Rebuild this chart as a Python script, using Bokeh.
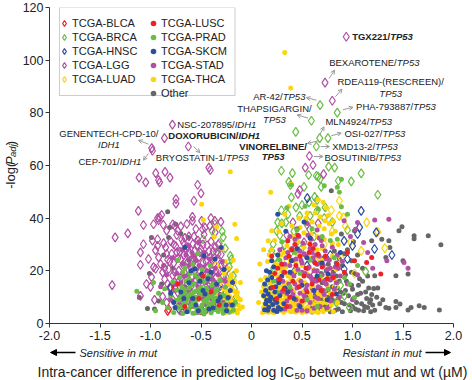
from math import pi
from bokeh.plotting import figure
from bokeh.layouts import column, row
from bokeh.models import (Legend, LegendItem, Label, Arrow, OpenHead, NormalHead,
                          BoxAnnotation, FixedTicker, CustomJSTickFormatter)
from bokeh.embed import file_html
from bokeh.resources import INLINE

# ---------------- data (x = difference in log IC50, y = -log(Padj)) ----------------
blca = [(-0.83, 4.8), (-0.82, 5.4), (-0.675, 6.7), (-0.76, 13.7), (-0.58, 7.5), (-0.50, 5.0),
        (0.35, 12.0), (0.62, 18.5), (0.45, 8.0)]

brca = [(0.679, 82.9), (0.593, 77.0), (0.849, 80.1), (0.675, 70.4), (0.757, 70.4), (0.642, 67.2),
        (0.438, 72.8), (0.296, 58.0), (0.405, 57.1), (0.566, 56.4), (0.642, 56.1), (0.764, 59.6),
        (0.823, 59.2), (1.086, 57.0), (0.37, 53.8), (0.385, 52.6), (0.66, 55.8), (0.68, 54.9),
        (0.86, 54.2), (0.988, 54.0), (1.25, 48.9), (0.69, 51.9), (0.52, 51.9), (0.395, 47.9),
        (0.44, 44.1), (0.296, 43.0), (0.26, 38.4), (0.30, 38.0), (0.34, 38.4), (0.477, 40.9),
        (0.58, 40.9), (0.652, 43.0), (0.73, 44.1), (0.625, 48.1), (0.65, 46.9), (0.214, 30.1),
        (0.20, 27.6), (0.23, 25.0), (0.27, 23.5), (1.13, 19.7), (0.57, 46.0), (0.50, 45.0),
        (0.36, 41.5), (0.42, 35.0), (0.55, 37.5), (0.80, 38.5), (0.72, 40.0), (0.28, 33.5),
        (0.25, 35.2), (0.33, 29.8), (0.45, 31.0), (0.22, 21.0), (0.19, 17.5), (0.18, 14.0),
        (0.17, 11.2), (0.21, 8.0), (0.15, 6.5), (0.95, 35.5), (0.62, 33.0), (0.38, 26.5),
        (0.49, 28.0), (0.88, 14.5), (0.92, 10.5), (0.97, 6.0), (0.84, 8.0),
        (-0.39, 35.2), (-0.363, 37.7), (-0.29, 35.0), (-0.28, 32.8), (-0.21, 25.7), (-0.20, 24.4),
        (-0.18, 18.1), (-0.25, 17.5), (-0.22, 21.5), (-0.17, 13.2), (-0.15, 10.1), (-0.26, 28.5),
        (-0.32, 30.5), (-0.14, 6.0), (-0.19, 7.5), (-0.48, 32.0), (-0.35, 27.0)]

hnsc = [(0.553, 47.6), (1.086, 42.8), (1.07, 36.5), (1.235, 34.6), (1.218, 28.3), (1.39, 26.0),
        (0.917, 31.4), (0.917, 20.7), (0.95, 24.5), (1.00, 29.5), (0.78, 26.0), (0.55, 22.0),
        (0.42, 19.5), (1.05, 34.0), (-0.80, 13.7), (-0.62, 8.8), (-0.45, 6.0), (-0.72, 5.5),
        (-0.30, 12.5)]

lgg = [(-0.783, 75.5), (-0.862, 70.4), (-0.988, 66.6), (-0.981, 65.6), (-0.625, 67.2),
       (-0.422, 59.2), (-0.408, 58.3), (0.938, 108.9), (0.728, 91.5), (0.800, 84.6), (0.573, 63.6),
       (0.533, 59.2), (0.609, 60.2), (0.714, 56.7),
       (-1.113, 55.4), (-1.047, 53.6), (-0.948, 57.1), (-0.91, 53.6), (-0.92, 54.5), (-0.856, 57.6),
       (-0.807, 55.4), (-0.533, 52.7), (-0.5, 49.4), (-0.57, 46.6), (-0.748, 47.2), (-0.748, 45.5),
       (-1.12, 42.8), (-1.07, 37.4), (-0.97, 37.7), (-0.93, 40.0), (-0.92, 39.2), (-0.873, 37.5),
       (-0.76, 37.1), (-0.585, 40.5), (-0.585, 39.0), (-0.494, 39.0), (-0.402, 40.0), (-0.363, 39.0),
       (-0.412, 37.1), (-0.303, 38.6), (-0.485, 35.8), (-0.73, 35.2), (-0.78, 37.7), (-1.35, 32.7),
       (-1.225, 34.2), (-1.07, 30.1), (-0.93, 29.5), (-0.93, 32.0), (-0.675, 30.8), (-1.38, 14.6),
       (-1.10, 27.0), (-1.10, 22.3), (-1.04, 15.0), (-1.0, 13.9), (-0.97, 21.4), (-1.10, 10.5),
       (-0.95, 20.8), (-0.91, 40.3), (-0.89, 41.2),
       (-0.98, 31.5), (-0.95, 27.8), (-0.92, 25.1), (-0.90, 22.6), (-0.88, 19.4), (-0.86, 16.8),
       (-0.85, 28.9), (-0.83, 24.2), (-0.82, 20.7), (-0.81, 13.5), (-0.80, 31.2), (-0.79, 26.5),
       (-0.78, 18.3), (-0.77, 22.9), (-0.76, 15.6), (-0.75, 29.4), (-0.74, 33.6), (-0.73, 24.8),
       (-0.72, 20.1), (-0.71, 27.3), (-0.70, 17.2), (-0.69, 31.9), (-0.68, 22.4), (-0.67, 25.9),
       (-0.66, 19.1), (-0.65, 28.6), (-0.64, 14.8), (-0.63, 23.5), (-0.62, 33.1), (-0.61, 26.7),
       (-0.60, 21.2), (-0.59, 18.0), (-0.58, 30.2), (-0.57, 24.4), (-0.56, 27.8), (-0.55, 16.3),
       (-0.54, 22.0), (-0.53, 31.5), (-0.52, 25.2), (-0.51, 19.7), (-0.50, 28.3), (-0.49, 13.9),
       (-0.48, 23.1), (-0.47, 33.8), (-0.46, 26.0), (-0.45, 18.6), (-0.44, 29.7), (-0.43, 21.6),
       (-0.42, 15.4), (-0.41, 25.0), (-0.40, 31.1), (-0.39, 19.9), (-0.38, 27.4), (-0.37, 22.8),
       (-0.36, 12.6), (-0.35, 17.5), (-0.34, 24.3), (-0.33, 30.0), (-0.32, 20.5), (-0.31, 14.2),
       (-0.30, 26.2), (-0.29, 9.8), (-0.28, 18.1), (-0.27, 22.7), (-0.26, 11.5), (-0.25, 15.9),
       (-0.88, 10.2), (-0.84, 7.9), (-0.79, 9.6), (-0.73, 11.8), (-0.68, 8.5), (-0.62, 10.9),
       (-0.57, 7.4), (-0.52, 12.1), (-0.47, 9.3), (-0.43, 6.8), (-0.38, 8.9), (-0.33, 7.2),
       (-0.96, 9.0), (-0.99, 17.6), (-1.02, 24.5), (-0.84, 35.3), (-0.70, 36.9), (-0.64, 37.8),
       (-0.55, 35.9), (-0.46, 36.4), (-0.36, 34.6), (-0.25, 20.3), (-0.22, 13.1), (-0.20, 8.4),
       (-0.24, 6.0),
       (-0.87, 30.5), (-0.84, 26.5), (-0.81, 23.5), (-0.77, 30.0), (-0.74, 27.0), (-0.70, 24.5),
       (-0.66, 32.5), (-0.63, 29.0), (-0.60, 24.0), (-0.57, 33.0), (-0.54, 29.5), (-0.51, 27.0),
       (-0.48, 30.0), (-0.45, 23.5), (-0.42, 27.5), (-0.39, 24.0), (-0.36, 29.0), (-0.33, 26.5),
       (-0.30, 22.0), (-0.76, 19.5), (-0.72, 16.0), (-0.68, 13.0), (-0.64, 17.5), (-0.60, 14.0),
       (-0.56, 20.0), (-0.52, 17.0), (-0.48, 19.0), (-0.44, 12.0), (-0.40, 16.0), (-0.35, 20.0),
       (-0.83, 15.0), (-0.86, 21.0),
       (0.477, 50.7), (0.46, 49.2), (0.41, 38.4), (0.576, 35.8), (0.66, 38.0), (0.35, 33.5),
       (0.52, 30.8), (0.30, 27.4)]

luad = [(0.79, 43.0), (0.87, 46.6), (1.14, 38.4), (1.25, 34.8), (1.32, 28.6), (0.89, 24.7),
        (1.086, 27.6), (0.87, 40.9), (0.91, 40.3), (0.93, 37.0), (0.80, 35.0), (0.72, 30.0),
        (0.98, 31.0), (0.66, 25.5), (1.02, 19.0), (0.58, 20.0), (0.45, 15.0), (0.83, 14.0),
        (0.35, 24.0), (0.27, 20.5), (-0.28, 14.5), (-0.22, 10.0), (-0.35, 22.0), (-0.18, 16.5)]

lusc = [(0.58, 30.1), (0.66, 26.3), (0.95, 27.0), (1.02, 23.8), (1.19, 25.1), (0.36, 31.4),
        (0.21, 13.7), (1.28, 18.8), (1.14, 23.2), (0.44, 22.0), (0.52, 18.0), (0.60, 15.0),
        (0.48, 25.5), (0.70, 21.5), (0.40, 28.0), (0.33, 19.5), (0.28, 17.0), (0.55, 12.0),
        (0.75, 17.0), (0.85, 22.5), (0.63, 23.0), (0.41, 16.0), (0.25, 9.5), (0.50, 8.5),
        (0.69, 12.5), (0.80, 11.0), (0.30, 22.5), (0.46, 33.5), (0.38, 10.0), (0.57, 27.0),
        (0.23, 19.0), (0.92, 19.5), (0.35, 6.5), (0.20, 25.5),
        (0.37, 25.5), (0.47, 14.0), (0.54, 21.0), (0.61, 28.5), (0.67, 16.5), (0.73, 25.5),
        (0.43, 30.0), (0.32, 13.0), (0.26, 21.0), (0.81, 17.5),
        (-0.66, 6.5), (-0.52, 9.5), (-0.40, 12.0), (-0.73, 15.0), (-0.48, 18.0), (-0.32, 7.0)]

prad = [(-1.136, 12.2), (-0.97, 15.6), (-0.92, 11.5), (-0.88, 8.0), (-0.95, 4.8), (-0.86, 13.2),
        (-0.83, 6.0), (-0.80, 10.5), (-0.78, 15.8), (-0.77, 4.2), (-0.75, 8.8), (-0.74, 12.6),
        (-0.72, 5.8), (-0.71, 17.5), (-0.70, 10.2), (-0.69, 14.0), (-0.68, 3.8), (-0.67, 7.5),
        (-0.66, 11.8), (-0.65, 16.0), (-0.64, 5.0), (-0.63, 9.2), (-0.62, 13.5), (-0.61, 19.0),
        (-0.60, 6.8), (-0.59, 10.8), (-0.58, 3.9), (-0.57, 15.0), (-0.56, 8.1), (-0.55, 12.3),
        (-0.54, 5.5), (-0.53, 17.2), (-0.52, 9.9), (-0.51, 4.4), (-0.50, 13.8), (-0.49, 7.0),
        (-0.48, 11.1), (-0.47, 15.9), (-0.46, 4.9), (-0.45, 9.0), (-0.44, 12.9), (-0.43, 6.2),
        (-0.42, 18.3), (-0.41, 10.4), (-0.40, 4.1), (-0.39, 14.6), (-0.38, 7.9), (-0.37, 11.7),
        (-0.36, 5.3), (-0.35, 9.6), (-0.34, 13.1), (-0.33, 4.6), (-0.32, 8.4), (-0.31, 16.4),
        (-0.30, 6.1), (-0.29, 11.0), (-0.28, 3.9), (-0.27, 7.2), (-0.26, 13.9), (-0.25, 5.4),
        (-0.24, 9.4), (-0.22, 4.3), (-0.20, 6.9), (-0.18, 5.0), (-0.16, 8.0), (-0.66, 21.0),
        (-0.58, 22.5), (-0.49, 20.5), (-0.41, 22.0), (-0.53, 26.5), (-0.73, 24.0), (-0.62, 5.2),
        (-0.56, 4.0), (-0.47, 3.6), (-0.69, 6.4), (-0.44, 8.1), (-0.60, 14.6), (-0.52, 13.0),
        (-0.64, 10.0), (-0.55, 10.0), (-0.45, 11.5), (-0.38, 10.0), (-0.58, 8.0), (-0.50, 6.0),
        (-0.40, 6.5),
        (-0.73, 6.5), (-0.71, 9.0), (-0.69, 11.5), (-0.67, 13.0), (-0.65, 7.8), (-0.63, 4.6),
        (-0.61, 11.0), (-0.59, 7.0), (-0.57, 12.0), (-0.55, 6.5), (-0.53, 9.0), (-0.51, 11.8),
        (-0.49, 4.8), (-0.47, 8.5), (-0.45, 13.5), (-0.43, 9.8), (-0.41, 7.2), (-0.39, 5.0),
        (-0.37, 9.0), (-0.35, 12.5), (-0.33, 6.5), (-0.31, 9.5), (-0.29, 5.5), (-0.27, 10.5),
        (-0.50, 16.5), (-0.56, 18.5), (-0.62, 17.0), (-0.44, 17.5), (-0.68, 19.5), (-0.38, 15.0),
        (0.87, 49.8), (0.89, 54.8), (0.85, 51.7), (0.72, 52.3), (0.89, 44.3), (0.395, 52.6),
        (0.97, 15.0), (1.02, 9.9), (0.60, 36.0), (0.70, 33.0), (0.30, 31.0), (0.48, 19.0),
        (0.38, 14.0), (0.25, 12.0), (0.55, 9.0), (0.65, 6.5), (0.82, 25.0), (0.76, 13.0),
        (0.92, 17.5), (0.43, 27.0), (0.66, 43.5), (0.18, 9.0), (1.05, 22.0), (0.78, 31.5),
        (0.35, 44.0), (0.28, 24.0), (0.22, 16.0), (0.45, 35.5), (0.58, 24.0), (0.68, 18.0),
        (0.85, 32.0), (0.53, 44.5), (0.95, 41.5)]

skcm = [(-0.66, 28.9), (-0.56, 20.7), (-0.494, 18.8), (-0.46, 11.2), (-0.345, 15.0), (-0.23, 9.9),
        (-0.247, 4.8), (-0.526, 4.8), (-0.757, 6.1), (-0.77, 8.0), (-0.188, 15.6), (-0.33, 8.6),
        (-0.36, 24.5), (-0.47, 25.7), (-0.30, 28.9), (-0.62, 15.5), (-0.70, 12.0), (-0.40, 19.5),
        (-0.27, 20.5), (-0.58, 9.5), (-0.64, 4.5), (-0.42, 5.5), (-0.21, 12.5), (-0.19, 7.0),
        (-0.51, 16.0), (-0.80, 11.5), (-0.55, 7.0), (-0.48, 12.5), (-0.38, 6.0), (-0.31, 10.0),
        (-0.25, 7.0), (-0.43, 17.0), (-0.67, 9.5), (-0.60, 20.0),
        (0.148, 20.0), (0.2, 23.8), (0.13, 15.0), (0.165, 11.2), (0.267, 6.1), (0.22, 5.0),
        (0.26, 41.5), (0.757, 18.8), (0.395, 23.8), (0.84, 11.2), (0.14, 7.5), (0.18, 8.5),
        (0.16, 5.0), (0.24, 14.0), (0.20, 17.5), (0.28, 10.5), (0.32, 7.5), (0.30, 18.0),
        (0.36, 12.0), (0.45, 28.5), (0.55, 25.0), (0.62, 12.5), (0.48, 6.5), (0.70, 23.0),
        (0.12, 10.5), (0.19, 13.5), (0.23, 9.0), (0.27, 15.5), (0.34, 35.0), (0.52, 38.5),
        (0.88, 27.0), (0.42, 9.5), (0.13, 5.2), (0.15, 8.8), (0.17, 6.2), (0.19, 10.0),
        (0.21, 7.2), (0.23, 12.0), (0.25, 8.0), (0.14, 12.5), (0.16, 16.5), (0.18, 19.5),
        (0.22, 21.5), (0.25, 4.6), (0.29, 5.4), (0.33, 13.5), (0.26, 26.0), (0.38, 19.5),
        (0.50, 14.5), (0.65, 18.0), (0.75, 9.0), (0.58, 32.5)]

stad = [(-0.80, 9.0), (-0.76, 12.5), (-0.74, 19.0), (-0.72, 7.2), (-0.70, 15.5), (-0.68, 22.5),
        (-0.66, 10.5), (-0.65, 26.0), (-0.63, 18.0), (-0.61, 13.0), (-0.60, 8.5), (-0.58, 20.5),
        (-0.57, 25.5), (-0.55, 15.0), (-0.54, 6.0), (-0.52, 22.0), (-0.50, 11.5), (-0.49, 17.0),
        (-0.47, 27.0), (-0.46, 7.5), (-0.44, 20.0), (-0.43, 13.5), (-0.41, 24.5), (-0.40, 9.5),
        (-0.38, 16.5), (-0.36, 21.0), (-0.35, 6.0), (-0.33, 18.5), (-0.31, 11.0), (-0.29, 23.5),
        (-0.28, 8.0), (-0.26, 16.0), (-0.64, 5.2), (-0.53, 4.2), (-0.45, 4.6), (-0.70, 4.0),
        (-0.62, 29.5), (-0.52, 31.0), (-0.78, 25.0), (-0.84, 18.5), (-0.87, 22.0), (-0.90, 14.0),
        (-0.75, 15.0), (-0.71, 10.0), (-0.67, 18.0), (-0.64, 12.0), (-0.59, 16.0), (-0.56, 10.0),
        (-0.53, 14.0), (-0.48, 9.5), (-0.45, 15.5), (-0.42, 10.5), (-0.39, 13.0), (-0.37, 8.0),
        (-0.34, 14.5), (-0.30, 16.5), (-0.62, 22.0), (-0.55, 24.0), (-0.48, 21.5), (-0.40, 18.0),
        (-0.69, 28.0), (-0.59, 27.0),
        (0.30, 12.0), (0.32, 19.5), (0.34, 25.0), (0.35, 8.5), (0.37, 15.0), (0.38, 22.0),
        (0.40, 28.5), (0.41, 11.0), (0.42, 18.0), (0.43, 32.0), (0.44, 24.5), (0.45, 13.5),
        (0.46, 20.5), (0.47, 7.0), (0.48, 27.5), (0.49, 16.0), (0.50, 23.0), (0.51, 30.5),
        (0.52, 10.5), (0.53, 19.0), (0.54, 25.5), (0.55, 14.5), (0.56, 33.5), (0.57, 21.5),
        (0.58, 8.0), (0.59, 17.5), (0.60, 27.0), (0.61, 12.5), (0.62, 23.5), (0.63, 30.0),
        (0.64, 16.0), (0.65, 20.0), (0.66, 9.5), (0.67, 25.5), (0.68, 13.5), (0.69, 31.5),
        (0.70, 18.5), (0.71, 22.0), (0.72, 11.0), (0.73, 27.5), (0.74, 15.0), (0.75, 20.5),
        (0.77, 24.0), (0.78, 8.5), (0.79, 17.0), (0.80, 29.0), (0.82, 13.0), (0.83, 21.5),
        (0.85, 26.0), (0.87, 10.0), (0.88, 18.0), (0.90, 23.5), (0.45, 36.0), (0.55, 38.0),
        (0.65, 35.5), (0.38, 33.0), (0.28, 28.0), (0.26, 16.5), (0.33, 5.5), (0.50, 5.0),
        (0.62, 5.8), (0.75, 6.0),
        (0.31, 16.0), (0.33, 22.5), (0.36, 27.0), (0.39, 12.5), (0.41, 24.0), (0.43, 15.0),
        (0.46, 28.0), (0.48, 11.5), (0.50, 19.5), (0.52, 26.5), (0.54, 13.0), (0.56, 21.0),
        (0.58, 28.5), (0.60, 16.5), (0.62, 20.0), (0.64, 26.0), (0.66, 14.0), (0.68, 23.0),
        (0.70, 29.5), (0.72, 16.0), (0.74, 24.5), (0.76, 13.0), (0.78, 21.0), (0.80, 18.5),
        (0.84, 15.5), (0.86, 21.0), (0.59, 32.0), (0.47, 33.0), (0.67, 32.5), (0.53, 9.0),
        (0.63, 10.0), (0.44, 9.0), (0.57, 18.0), (0.49, 24.0), (0.61, 25.0), (0.71, 12.5),
        (0.40, 19.0), (0.35, 11.5), (0.38, 6.5), (0.55, 4.8), (0.45, 5.0), (0.68, 6.5),
        (1.05, 38.4), (1.22, 39.3), (1.36, 39.6), (0.917, 39.0), (1.34, 23.8), (1.51, 23.2),
        (1.55, 21.0), (1.03, 35.8), (1.11, 30.8), (0.98, 33.0), (1.15, 27.0), (0.95, 15.0),
        (1.05, 18.5), (1.20, 21.0), (1.00, 9.0)]

thca = [(0.329, 102.9), (0.388, 89.4), (-0.21, 57.6), (-0.494, 45.3), (-0.477, 39.3),
        (-0.345, 36.7), (-0.165, 37.7), (-0.148, 32.3), (-0.29, 28.6), (-0.37, 32.9), (0.19, 49.8),
        (0.2, 35.2), (0.165, 31.4), (0.082, 22.6), (0.175, 26.1), (-0.15, 20.0), (-0.11, 15.6),
        (-0.09, 6.3), (-0.14, 11.8), (0.395, 52.9), (0.1, 12.0), (0.07, 8.0), (0.09, 16.5),
        (0.12, 28.0),
        (-0.30, 5.0), (-0.28, 9.0), (-0.27, 13.0), (-0.26, 4.2), (-0.25, 7.5), (-0.24, 11.0),
        (-0.23, 15.0), (-0.22, 6.0), (-0.21, 9.5), (-0.20, 18.5), (-0.19, 4.5), (-0.18, 12.5),
        (-0.17, 8.0), (-0.16, 5.0), (-0.15, 10.5), (-0.14, 4.0), (-0.13, 7.0), (-0.12, 5.5),
        (-0.20, 13.5), (-0.23, 21.0), (-0.18, 24.0), (-0.32, 17.0), (-0.35, 11.0), (-0.27, 19.0),
        (-0.11, 9.0), (-0.21, 4.8), (-0.24, 5.2), (-0.28, 6.5), (-0.19, 8.2), (-0.16, 12.0),
        (-0.13, 9.5), (-0.17, 15.5), (-0.25, 12.5), (-0.22, 16.5), (-0.30, 10.5), (-0.26, 23.5),
        (0.15, 5.0), (0.17, 8.5), (0.18, 12.0), (0.19, 15.5), (0.20, 4.5), (0.21, 19.0),
        (0.22, 7.0), (0.23, 10.5), (0.24, 22.5), (0.25, 5.5), (0.26, 13.5), (0.27, 17.5),
        (0.28, 8.0), (0.29, 26.0), (0.30, 4.8), (0.31, 21.0), (0.32, 11.0), (0.33, 14.5),
        (0.34, 6.5), (0.35, 29.5), (0.36, 18.0), (0.37, 9.5), (0.38, 24.5), (0.39, 4.5),
        (0.40, 13.0), (0.41, 33.0), (0.42, 7.0), (0.43, 20.0), (0.44, 10.0), (0.45, 26.5),
        (0.46, 5.0), (0.47, 16.5), (0.48, 36.5), (0.49, 8.5), (0.50, 22.0), (0.51, 12.0),
        (0.52, 29.0), (0.53, 5.5), (0.54, 40.0), (0.55, 18.5), (0.56, 9.0), (0.57, 25.0),
        (0.58, 4.6), (0.59, 34.0), (0.60, 14.0), (0.61, 7.5), (0.62, 20.5), (0.63, 42.0),
        (0.64, 5.0), (0.65, 28.0), (0.66, 11.5), (0.67, 37.0), (0.68, 6.5), (0.69, 17.0),
        (0.70, 24.0), (0.71, 4.5), (0.72, 32.0), (0.73, 9.5), (0.74, 44.0), (0.75, 14.5),
        (0.76, 5.5), (0.77, 38.0), (0.78, 21.0), (0.79, 7.0), (0.80, 30.5), (0.81, 4.5),
        (0.82, 12.0), (0.83, 35.0), (0.85, 8.0), (0.16, 23.5), (0.14, 17.5), (0.13, 10.0),
        (0.12, 6.0), (0.11, 4.2), (0.20, 28.0), (0.23, 31.5), (0.27, 35.0), (0.30, 38.0),
        (0.33, 41.5), (0.37, 44.5), (0.22, 14.0), (0.26, 9.0), (0.31, 6.0), (0.36, 5.0),
        (0.41, 5.5), (0.44, 4.4), (0.50, 4.2), (0.55, 6.0), (0.60, 5.0), (0.66, 4.2), (0.70, 7.8),
        (0.28, 12.5), (0.35, 15.5), (0.42, 12.0), (0.48, 14.0), (0.53, 15.5), (0.58, 11.0),
        (0.64, 9.0), (0.19, 6.5), (0.17, 4.3), (0.25, 16.0), (0.30, 20.0), (0.38, 28.0),
        (0.46, 31.0), (0.52, 34.5), (0.60, 38.5), (0.68, 40.5), (0.71, 46.0), (0.62, 45.0),
        (0.14, 4.5), (0.16, 6.8), (0.18, 5.5), (0.20, 9.0), (0.22, 4.2), (0.24, 6.5),
        (0.26, 4.6), (0.28, 5.8), (0.30, 8.8), (0.32, 4.3), (0.34, 9.8), (0.36, 7.2),
        (0.38, 5.6), (0.40, 8.0), (0.42, 4.6), (0.44, 7.2), (0.46, 9.5), (0.48, 4.8),
        (0.50, 6.8), (0.52, 8.2), (0.54, 4.4), (0.56, 6.5), (0.58, 8.4), (0.60, 10.0),
        (0.62, 4.5), (0.64, 7.0), (0.66, 8.4), (0.68, 10.5), (0.70, 5.2), (0.72, 12.5),
        (0.74, 8.0), (0.76, 18.0), (0.78, 11.5), (0.80, 25.5), (0.82, 16.5), (0.84, 20.5),
        (0.86, 30.0), (0.79, 34.0), (0.76, 41.0), (0.72, 36.0), (0.70, 28.5), (0.65, 33.0),
        (0.57, 30.5), (0.50, 26.0), (0.44, 23.0), (0.39, 17.0), (0.34, 21.5), (0.29, 14.5),
        (0.24, 18.5), (0.21, 11.0), (0.27, 22.0), (0.32, 27.0), (0.40, 37.0), (0.47, 40.0),
        (0.55, 42.0), (0.66, 47.0), (0.73, 39.0), (0.81, 39.0), (0.15, 9.0), (0.17, 13.0),
        (0.13, 7.5), (0.12, 14.0)]

other = [(-0.83, 42.4), (-0.75, 37.7), (-0.81, 36.5), (-0.99, 32.7), (-0.82, 32.7), (-0.70, 34.2),
         (-0.625, 32.7), (-1.01, 19.0), (-1.11, 9.9), (-1.03, 5.7), (-0.96, 5.5), (-0.89, 15.0),
         (-0.70, 9.0), (-0.87, 26.0), (-0.78, 21.0), (-0.62, 24.0), (-0.55, 18.0), (-0.66, 14.0),
         (-0.60, 6.5), (-0.52, 13.0), (-0.44, 16.0), (-0.75, 6.0), (-0.92, 8.5),
         (1.46, 35.2), (1.49, 36.7), (1.61, 33.3), (1.61, 32.2), (1.75, 33.3), (1.875, 29.9),
         (1.36, 31.4), (1.33, 25.1), (1.50, 23.8), (1.55, 18.8), (1.43, 18.1), (1.22, 18.1),
         (1.21, 13.3), (1.33, 6.1), (1.36, 5.8), (1.43, 6.1), (1.43, 8.4), (1.58, 6.1),
         (1.55, 5.1), (1.66, 6.7), (1.71, 6.1), (1.86, 5.1), (1.47, 7.4), (1.15, 6.1),
         (1.37, 28.9), (0.79, 50.4), (0.89, 34.0), (1.02, 35.2), (1.19, 31.4), (1.29, 32.0),
         (0.99, 23.8), (1.27, 7.5), (1.24, 10.0), (1.18, 9.0),
         (0.55, 10.0), (0.58, 6.0), (0.60, 13.5), (0.62, 8.0), (0.64, 17.0), (0.66, 5.0),
         (0.68, 11.0), (0.70, 15.5), (0.72, 7.0), (0.74, 20.0), (0.76, 10.0), (0.78, 4.5),
         (0.80, 14.0), (0.82, 8.5), (0.84, 18.0), (0.86, 5.5), (0.88, 12.0), (0.90, 22.0),
         (0.92, 7.5), (0.94, 16.0), (0.96, 10.5), (0.98, 4.8), (1.00, 13.0), (1.02, 19.0),
         (1.04, 8.0), (1.06, 5.0), (1.08, 11.5), (1.10, 16.0), (1.12, 6.5), (1.14, 9.5),
         (1.16, 13.5), (1.18, 4.5), (1.20, 7.0), (0.72, 25.0), (0.82, 27.5), (0.95, 28.0),
         (1.05, 26.0), (1.10, 21.0), (0.65, 22.5), (0.87, 24.5), (0.99, 19.5), (0.78, 16.5),
         (0.70, 9.0), (0.86, 9.5), (0.93, 12.5), (1.00, 6.5), (1.06, 14.5), (0.66, 13.5),
         (0.75, 12.5), (0.90, 4.5), (0.74, 5.5),
         (0.60, 4.4), (0.63, 11.0), (0.67, 7.5), (0.69, 19.0), (0.71, 12.0), (0.73, 16.5),
         (0.77, 6.5), (0.79, 9.5), (0.81, 19.5), (0.83, 5.0), (0.85, 13.5), (0.87, 16.0),
         (0.89, 8.0), (0.91, 11.5), (0.93, 18.5), (0.97, 7.0), (0.99, 14.5), (1.01, 9.5),
         (1.03, 5.5), (1.05, 11.0), (1.07, 17.0), (1.09, 7.5), (1.11, 4.8), (1.13, 12.0),
         (1.15, 18.0), (1.17, 8.0), (1.19, 11.0), (1.22, 5.0), (1.25, 13.5), (1.30, 9.0),
         (0.76, 22.5), (0.84, 23.0), (0.92, 26.5), (1.01, 31.0)]

x_ticks = [-2.0, -1.5, -1.0, -0.5, 0.0, 0.5, 1.0, 1.5, 2.0]
y_ticks = [0, 20, 40, 60, 80, 100, 120]

# ---------------- styling / layout ----------------
RED, GREEN, BLUE, PURPLE, YELLOW, GRAY = "#ec2227", "#6bbd45", "#2d4d9f", "#b14fa4", "#fcd60c", "#666666"
FONT = "Liberation Sans"
TXT = "#222222"

WT, HT = 472, 380          # whole picture
WL = 19                    # strip left of the plot for the y title
HM = 345                   # height of main plot (bottom strip below it)
W = WT - WL
BL, BR, BT, BB = 48 - WL, 19, 7, 22
FRAME_H = HM - BT - BB
PPU = FRAME_H / 120.0
PPX = (W - BL - BR) / 4.0

p = figure(width=W, height=HM, x_range=(-2, 2), y_range=(0, 120),
           output_backend="svg", toolbar_location=None,
           min_border_left=BL, min_border_right=BR, min_border_top=BT, min_border_bottom=BB)
p.outline_line_color = None
p.grid.visible = False
p.xaxis.ticker = FixedTicker(ticks=x_ticks)
p.xaxis.formatter = CustomJSTickFormatter(code="return tick == 0 ? '0' : tick.toFixed(1);")
p.yaxis.ticker = FixedTicker(ticks=y_ticks)
for ax in (p.xaxis, p.yaxis):
    ax.axis_line_color = "#333333"
    ax.major_tick_line_color = "#333333"
    ax.major_tick_out = 4
    ax.major_tick_in = 0
    ax.minor_tick_line_color = None
    ax.major_label_text_font = FONT
    ax.major_label_text_font_size = "12.5px"
    ax.major_label_text_color = TXT
p.xaxis.major_label_standoff = 3
p.yaxis.major_label_standoff = 2


def xs(pts):
    return [a for a, b in pts]


def ys(pts):
    return [b for a, b in pts]


def dots(pts, color):
    return p.scatter(xs(pts), ys(pts), marker="circle", size=5, fill_color=color, line_color=None)


def dias(pts, color):
    return p.scatter(xs(pts), ys(pts), marker="diamond", size=9, fill_color=None,
                     line_color=color, line_width=1.2)


r_other = dots(other, GRAY)
r_brca = dias(brca, GREEN)
r_lgg = dias(lgg, PURPLE)
r_luad = dias(luad, YELLOW)
r_hnsc = dias(hnsc, BLUE)
r_blca = dias(blca, RED)
r_thca = dots(thca, YELLOW)
r_stad = dots(stad, PURPLE)
r_prad = dots(prad, GREEN)
r_skcm = dots(skcm, BLUE)
r_lusc = dots(lusc, RED)

# ---------------- legend (two columns inside a box) ----------------
GH, PAD = 14, 4


def mk_legend(items, left):
    n = len(items)
    height = 2 * PAD + n * GH
    return Legend(items=[LegendItem(label=l, renderers=[r]) for l, r in items],
                  location=(left, FRAME_H - 1 - height), glyph_width=GH, glyph_height=GH,
                  label_height=GH, spacing=0, padding=PAD, margin=0, label_standoff=1,
                  label_text_font=FONT, label_text_font_size="11px", label_text_color=TXT,
                  border_line_color=None, background_fill_alpha=0)


p.add_layout(mk_legend([("TCGA-BLCA", r_blca), ("TCGA-BRCA", r_brca), ("TCGA-HNSC", r_hnsc),
                        ("TCGA-LGG", r_lgg), ("TCGA-LUAD", r_luad)], 8))
p.add_layout(mk_legend([("TCGA-LUSC", r_lusc), ("TCGA-PRAD", r_prad), ("TCGA-SKCM", r_skcm),
                        ("TCGA-STAD", r_stad), ("TCGA-THCA", r_thca), ("Other", r_other)], 97))
p.add_layout(BoxAnnotation(left=-2 + 10 / PPX, right=-2 + 186 / PPX, top=120, bottom=120 - 88 / PPU,
                           fill_color=None, fill_alpha=0, line_color="#555555", line_width=1))

# ---------------- drug annotations ----------------
notes = [
    (1.373, 108.9, "TGX221/", "right", "bold"), (1.373, 108.9, "TP53", "left", "bold italic"),
    (1.438, 99.0, "BEXAROTENE/", "right", "normal"), (1.438, 99.0, "TP53", "left", "italic"),
    (1.378, 91.8, "RDEA119-(RESCREEN)/", "center", "normal"), (1.378, 87.4, "TP53", "center", "italic"),
    (0.309, 86.2, "AR-42/", "right", "normal"), (0.309, 86.2, "TP53", "left", "italic"),
    (0.227, 81.7, "THAPSIGARGIN/", "center", "normal"), (0.227, 77.4, "TP53", "center", "italic"),
    (1.600, 82.3, "PHA-793887/", "right", "normal"), (1.600, 82.3, "TP53", "left", "italic"),
    (1.166, 76.6, "MLN4924/", "right", "normal"), (1.166, 76.6, "TP53", "left", "italic"),
    (1.297, 72.3, "OSI-027/", "right", "normal"), (1.297, 72.3, "TP53", "left", "italic"),
    (0.214, 67.2, "VINORELBINE/", "center", "bold"), (0.214, 63.3, "TP53", "center", "bold italic"),
    (1.223, 67.2, "XMD13-2/", "right", "normal"), (1.223, 67.2, "TP53", "left", "italic"),
    (1.256, 63.0, "BOSUTINIB/", "right", "normal"), (1.256, 63.0, "TP53", "left", "italic"),
    (-0.166, 75.5, "NSC-207895/", "right", "normal"), (-0.166, 75.5, "IDH1", "left", "italic"),
    (-0.129, 71.3, "DOXORUBICIN/", "right", "bold"), (-0.129, 71.3, "IDH1", "left", "bold italic"),
    (-1.412, 72.2, "GENENTECH-CPD-10/", "center", "normal"), (-1.412, 67.9, "IDH1", "center", "italic"),
    (-1.305, 61.4, "CEP-701/", "right", "normal"), (-1.305, 61.4, "IDH1", "left", "italic"),
    (-0.252, 63.0, "BRYOSTATIN-1/", "right", "normal"), (-0.252, 63.0, "TP53", "left", "italic"),
]
for x, y, t, al, st in notes:
    p.add_layout(Label(x=x, y=y, text=t, text_align=al, text_baseline="middle",
                       text_font=FONT, text_font_size="9.5px", text_font_style=st, text_color=TXT))

arrows = [
    (0.768, 93.05, 0.823, 96.2), (0.830, 86.1, 0.896, 89.0), (0.642, 84.8, 0.543, 85.8),
    (0.560, 78.0, 0.451, 79.2), (0.906, 81.2, 1.005, 82.1), (0.675, 71.7, 0.718, 74.7),
    (0.790, 71.3, 0.889, 72.3), (0.665, 69.4, 0.553, 68.4), (0.684, 67.2, 0.773, 67.2),
    (0.619, 63.4, 0.708, 63.4), (-1.020, 68.1, -1.119, 69.6), (-1.020, 64.6, -1.069, 62.0),
    (-0.573, 67.2, -0.510, 64.9),
]
for x0, y0, x1, y1 in arrows:
    p.add_layout(Arrow(x_start=x0, y_start=y0, x_end=x1, y_end=y1, line_color="#9a9a9a",
                       line_width=1, end=OpenHead(size=4, line_color="#9a9a9a", line_width=1)))


# ---------------- text strips (frame = whole strip, coordinates in pixels) ----------------
def strip(w, h):
    f = figure(width=w, height=h, x_range=(0, w), y_range=(0, h), output_backend="svg",
               toolbar_location=None, min_border=0, x_axis_location=None, y_axis_location=None)
    f.outline_line_color = None
    f.grid.visible = False
    return f


# y title: -log(P_adj), reading upwards, centred at picture y = 172
left = strip(WL, HM)
parts = [("-log(", 26.0, "normal", "13px", 0), ("P", 8.7, "italic", "13px", 0),
         ("adj", 12.7, "italic", "9.5px", 2.5), (")", 4.3, "normal", "13px", 0)]
total = sum(w for _, w, _, _, _ in parts)
pos = (HM - 172) - total / 2
for t, w, st, fs, xo in parts:
    left.add_layout(Label(x=9.5 + xo, y=pos, text=t, angle=pi / 2, text_align="left",
                          text_baseline="middle", text_font=FONT, text_font_size=fs,
                          text_font_style=st, text_color=TXT))
    pos += w

# bottom strip: direction hints and x title
HS = HT - HM
bottom = strip(WT, HS)
y_row = HT - 352
bottom.add_layout(Label(x=79, y=y_row, text="Sensitive in mut", text_align="left",
                        text_baseline="middle", text_font=FONT, text_font_size="11px",
                        text_font_style="italic", text_color=TXT))
bottom.add_layout(Label(x=421, y=y_row, text="Resistant in mut", text_align="right",
                        text_baseline="middle", text_font=FONT, text_font_size="11px",
                        text_font_style="italic", text_color=TXT))
y_t = HT - 371.5
x_ic = 293.6
bottom.add_layout(Label(x=x_ic, y=y_t, text="Intra-cancer difference in predicted log IC",
                        text_align="right", text_baseline="middle", text_font=FONT,
                        text_font_size="14px", text_color=TXT))
bottom.add_layout(Label(x=x_ic + 0.5, y=y_t - 3.5, text="50", text_align="left",
                        text_baseline="middle", text_font=FONT, text_font_size="9.5px",
                        text_color=TXT))
bottom.add_layout(Label(x=x_ic + 15, y=y_t, text="between mut and wt (\u00b5M)",
                        text_align="left", text_baseline="middle", text_font=FONT,
                        text_font_size="14px", text_color=TXT))
bottom.add_layout(Arrow(x_start=75, y_start=y_row, x_end=50, y_end=y_row, line_color="black",
                        line_width=1.3, end=NormalHead(size=6, fill_color="black", line_color="black")))
bottom.add_layout(Arrow(x_start=425, y_start=y_row, x_end=450, y_end=y_row, line_color="black",
                        line_width=1.3, end=NormalHead(size=6, fill_color="black", line_color="black")))

page = column(row(left, p), bottom)
open("out.html", "w").write(file_html(page, INLINE))
